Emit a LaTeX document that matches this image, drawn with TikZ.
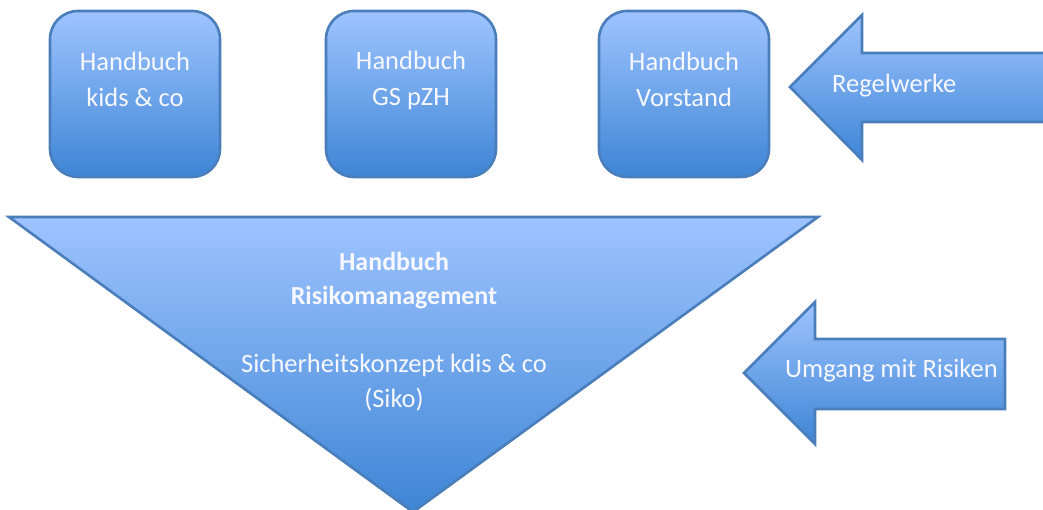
\documentclass[tikz,border=0pt]{standalone}
\usepackage{fontspec}
\setmainfont{Carlito}
\definecolor{rmEdge}{RGB}{74,126,187}
\definecolor{rmTop}{RGB}{158,196,255}
\definecolor{rmMid}{RGB}{138,184,247}
\definecolor{rmBottom}{RGB}{62,133,213}
\tikzset{
  blueshade/.style={draw=rmEdge,line width=2.6pt,line join=miter,
    top color=rmTop,middle color=rmMid,bottom color=rmBottom},
  handbook/.style={blueshade,rounded corners=28pt,
    minimum width=170pt,minimum height=166pt,inner sep=0pt},
  whitetext/.style={text=white!97!blue,align=center,inner sep=0pt,
    font=\fontsize{26.5}{36}\selectfont}
}
\begin{document}
\begin{tikzpicture}[x=1pt,y=-1pt]
\useasboundingbox (0,0) rectangle (1043,510);
\clip (0,0) rectangle (1043,510);
% the three handbooks on top
\node[handbook] (kids) at (135,94) {};
\node[handbook] (gs) at (411,94) {};
\node[handbook] (board) at (684,94) {};
\node[whitetext] (kidsText) at ([yshift=15pt]kids.center) {Handbuch\\kids \& co};
\node[whitetext] (gsText) at ([yshift=13.5pt]gs.center) {Handbuch\\GS pZH};
\node[whitetext] (boardText) at ([yshift=15pt]board.center) {Handbuch\\Vorstand};
% arrow: Regelwerke
\coordinate (rTip) at (790,87);
\coordinate (rBack) at (862,87);
\filldraw[blueshade] (1060,53) -- (rBack |- 0,53) -- (rBack |- 0,15) -- (rTip)
  -- (rBack |- 0,160) -- (rBack |- 0,122) -- (1060,122) -- cycle;
\node[whitetext,anchor=west] (rules) at (832,86) {Regelwerke};
% big funnel
\coordinate (fLeft) at (9,217);
\coordinate (fRight) at (818,217);
\coordinate (fApex) at (413,512);
\filldraw[blueshade] (fLeft) -- (fRight) -- (fApex) -- cycle;
\node[whitetext,font=\fontsize{26}{34}\bfseries] (riskTitle) at (394,281)
  {Handbuch\\Risikomanagement};
\node[whitetext,font=\fontsize{26.5}{35}\selectfont] (siko) at (394,383)
  {Sicherheitskonzept kdis \& co\\(Siko)};
% arrow: Umgang mit Risiken
\coordinate (uTip) at (744,373);
\coordinate (uBack) at (815,373);
\filldraw[blueshade] (1005,339) -- (uBack |- 0,339) -- (uBack |- 0,302) -- (uTip)
  -- (uBack |- 0,444) -- (uBack |- 0,409) -- (1005,409) -- cycle;
\node[whitetext,anchor=west] (risks) at (785,371) {Umgang mit Risiken};
\end{tikzpicture}
\end{document}
